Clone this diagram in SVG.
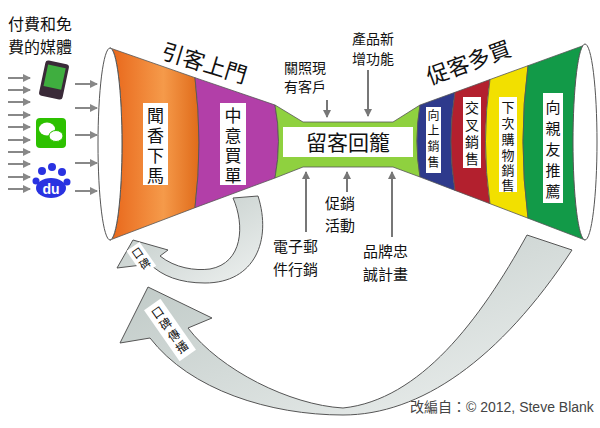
<svg xmlns="http://www.w3.org/2000/svg" width="600" height="428" viewBox="0 0 600 428">
<defs>
<style>
.t{font-family:"Noto Sans CJK TC","Noto Sans CJK SC",sans-serif;fill:#111}
.v{font-family:"Noto Sans CJK TC","Noto Sans CJK SC",sans-serif;fill:#111;text-anchor:middle}
.lab{fill:#fff}
.ar{stroke:#888;stroke-width:2;fill:none;marker-end:url(#ah)}
.ak{stroke:#777;stroke-width:2;fill:none;marker-end:url(#ak)}
.band{stroke:#555;stroke-width:0.8}
.big{fill:url(#gg);stroke:#555;stroke-width:1}
</style>
<marker id="ah" markerUnits="userSpaceOnUse" markerWidth="8" markerHeight="8" refX="7" refY="4" orient="auto"><path d="M0,0L8,4L0,8z" fill="#888"/></marker>
<marker id="ak" markerUnits="userSpaceOnUse" markerWidth="8" markerHeight="8" refX="7" refY="4" orient="auto"><path d="M0,0L8,4L0,8z" fill="#777"/></marker>
<linearGradient id="gg" x1="0" y1="0" x2="1" y2="1"><stop offset="0" stop-color="#b9c4c1"/><stop offset="1" stop-color="#eef1f0"/></linearGradient>
<linearGradient id="go" x1="0" y1="0" x2="1" y2="0"><stop offset="0" stop-color="#e8661a"/><stop offset="0.6" stop-color="#f59a4a"/><stop offset="1" stop-color="#e06b1a"/></linearGradient>
</defs>
<rect width="600" height="428" fill="#fff"/>

<g id="media">
<text class="t" x="8" y="30" font-size="16">付費和免</text>
<text class="t" x="8" y="53" font-size="16">費的媒體</text>
<g id="tablet"><rect x="42" y="62" width="24" height="36" rx="3" fill="#3a2a38" transform="rotate(12 54 80)"/><rect x="45" y="66" width="18" height="22" fill="#3fae3f" transform="rotate(12 54 80)"/></g>
<g id="wechat"><rect x="36" y="118" width="30" height="30" rx="4" fill="#2dc100"/><ellipse cx="47" cy="129" rx="8" ry="6.5" fill="#fff"/><ellipse cx="56" cy="136" rx="7" ry="5.5" fill="#fff" stroke="#2dc100" stroke-width="1"/></g>
<g id="baidu" fill="#2932e1"><circle cx="42" cy="171" r="4"/><circle cx="52" cy="167" r="4"/><circle cx="62" cy="172" r="4"/><circle cx="36" cy="181" r="3.5"/><circle cx="67" cy="182" r="3.5"/><ellipse cx="51" cy="188" rx="15" ry="10"/><text x="51" y="194" font-family="Liberation Sans,sans-serif" font-weight="bold" font-size="14" fill="#fff" text-anchor="middle">du</text></g>
</g>

<g id="connectors">
<path class="ar" d="M8,78H30"/><path class="ar" d="M8,90H30"/><path class="ar" d="M8,102H30"/><path class="ar" d="M8,115H30"/><path class="ar" d="M8,127H30"/><path class="ar" d="M8,140H30"/><path class="ar" d="M8,152H30"/><path class="ar" d="M8,164H30"/><path class="ar" d="M8,177H30"/><path class="ar" d="M8,189H30"/>
<path class="ar" d="M75,84H97"/><path class="ar" d="M75,108H97"/><path class="ar" d="M75,135H97"/><path class="ar" d="M75,163H97"/><path class="ar" d="M75,191H97"/>
<path class="ak" d="M327,100V117"/>
<path class="ak" d="M368,70V116"/>
<path class="ak" d="M306,232V172"/>
<path class="ak" d="M347,192V172"/>
<path class="ak" d="M392,237V172"/>
</g>

<g id="funnel-left">
<path class="band" fill="url(#go)" d="M110,48 L195,77.7 Q203,143 195,207.7 L110,240 A12,96 0 0 0 110,48Z"/>
<path class="band" fill="#b23fa8" d="M195,77.7 L275,105 Q282,141 275,178 L195,207.7 Q203,143 195,77.7Z"/>
<ellipse cx="110" cy="144" rx="12" ry="96" fill="#fff" stroke="#555" stroke-width="1"/>
</g>
<g id="neck">
<path class="band" fill="#8fd13f" d="M275,105 L303,122 L393,122 L420,105 Q414,141 420,177 L393,167 L303,167 L275,178 Q282,141 275,105Z"/>
<rect x="283" y="127" width="130" height="30" fill="#fff"/>
<text class="v" x="348" y="150" font-size="21">留客回籠</text>
</g>
<g id="funnel-right">
<path class="band" fill="#2e3a8c" d="M420,105 L455,92.3 Q447,141 455,190.4 L420,177 Q414,141 420,105Z"/>
<path class="band" fill="#b3202e" d="M455,92.3 L490,79.5 Q481,141 490,203.7 L455,190.4 Q447,141 455,92.3Z"/>
<path class="band" fill="#f2e000" d="M490,79.5 L528,65.7 Q518,141 528,218.2 L490,203.7 Q481,141 490,79.5Z"/>
<path class="band" fill="#129a48" d="M528,65.7 L585,45 L585,240 L528,218.2 Q518,141 528,65.7Z"/>
<ellipse cx="585" cy="142" rx="12" ry="98" fill="#fff" stroke="#555" stroke-width="1"/>
</g>

<g id="labels">
<rect class="lab" x="143" y="103" width="25" height="82"/>
<text class="v" font-size="17"><tspan x="155.5" y="122">聞</tspan><tspan x="155.5" y="142">香</tspan><tspan x="155.5" y="162">下</tspan><tspan x="155.5" y="182">馬</tspan></text>
<rect class="lab" x="220" y="103" width="26" height="82"/>
<text class="v" font-size="17"><tspan x="233" y="122">中</tspan><tspan x="233" y="142">意</tspan><tspan x="233" y="162">買</tspan><tspan x="233" y="182">單</tspan></text>
<rect class="lab" x="426" y="107" width="15" height="66"/>
<text class="v" font-size="12"><tspan x="433.5" y="120">向</tspan><tspan x="433.5" y="135">上</tspan><tspan x="433.5" y="151">銷</tspan><tspan x="433.5" y="167">售</tspan></text>
<rect class="lab" x="463" y="97" width="18" height="71"/>
<text class="v" font-size="14"><tspan x="472" y="113">交</tspan><tspan x="472" y="130">叉</tspan><tspan x="472" y="147">銷</tspan><tspan x="472" y="164">售</tspan></text>
<rect class="lab" x="499" y="97" width="18" height="95"/>
<text class="v" font-size="13"><tspan x="508" y="112">下</tspan><tspan x="508" y="128">次</tspan><tspan x="508" y="144">購</tspan><tspan x="508" y="160">物</tspan><tspan x="508" y="175">銷</tspan><tspan x="508" y="190">售</tspan></text>
<rect class="lab" x="543" y="93" width="20" height="110"/>
<text class="v" font-size="15"><tspan x="553" y="113">向</tspan><tspan x="553" y="134">親</tspan><tspan x="553" y="155">友</tspan><tspan x="553" y="176">推</tspan><tspan x="553" y="197">薦</tspan></text>
<text class="t" font-size="22" transform="translate(160,58) rotate(17)">引客上門</text>
<text class="t" font-size="22" transform="translate(430,85) rotate(-20)">促客多買</text>
<text class="t" font-size="14" x="284" y="73">關照現</text>
<text class="t" font-size="14" x="284" y="92">有客戶</text>
<text class="t" font-size="14" x="352" y="44">產品新</text>
<text class="t" font-size="14" x="352" y="64">增功能</text>
<text class="t" font-size="15" x="325" y="209">促銷</text>
<text class="t" font-size="15" x="325" y="231">活動</text>
<text class="t" font-size="15" x="273" y="252">電子郵</text>
<text class="t" font-size="15" x="273" y="275">件行銷</text>
<text class="t" font-size="15" x="363" y="257">品牌忠</text>
<text class="t" font-size="15" x="363" y="280">誠計畫</text>
</g>

<g id="arrow-small">
<path class="big" d="M258,196 C272,240 255,283 205,283 C180,283 162,276 150,264 L117,268 L133,240 L168,250 L160,256 C175,268 195,271 210,269 C243,263 245,225 233,198 Z"/>
<g transform="translate(141,258) rotate(-35)">
<rect x="-8" y="-14" width="16" height="29" fill="#fff"/>
<text class="v" font-size="11" x="0" y="-2">口</text>
<text class="v" font-size="11" x="0" y="11">碑</text>
</g>
</g>
<g id="arrow-big">
<path class="big" d="M572,250 C500,360 420,415 343,415 C270,415 190,390 150,338 L120,343 L148,287 L212,318 L188,328 C220,370 290,405 343,408 C420,400 480,320 527,235 Z"/>
<g transform="translate(170,330) rotate(-35)">
<rect x="-10" y="-31" width="20" height="62" fill="#fff"/>
<text class="v" font-size="12" x="0" y="-17">口</text>
<text class="v" font-size="12" x="0" y="-3">碑</text>
<text class="v" font-size="12" x="0" y="11">傳</text>
<text class="v" font-size="12" x="0" y="25">播</text>
</g>
</g>
<text x="410" y="412" font-size="14" fill="#444" font-family="Liberation Sans,'Noto Sans CJK TC',sans-serif">改編自：© 2012, Steve Blank</text>
</svg>
